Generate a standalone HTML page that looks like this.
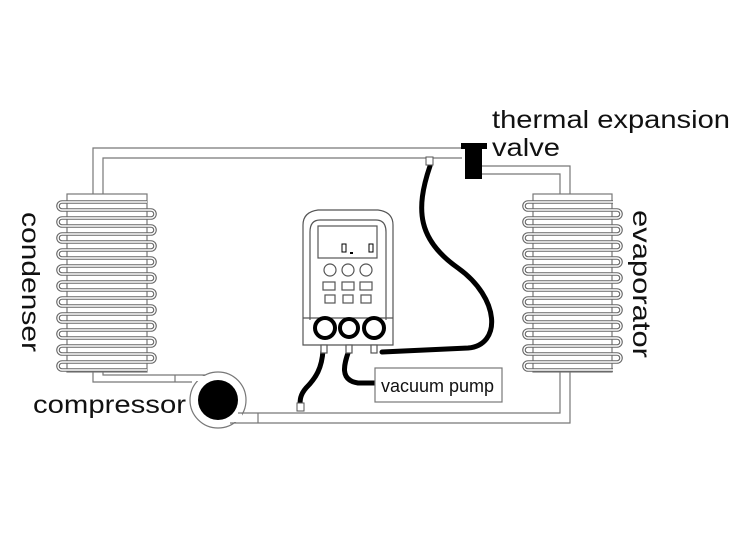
<!DOCTYPE html>
<html><head><style>html,body{margin:0;padding:0;background:#fff;width:737px;height:552px;overflow:hidden}</style></head><body>
<svg width="737" height="552" viewBox="0 0 737 552" xmlns="http://www.w3.org/2000/svg" font-family="Liberation Sans, sans-serif">
<defs>
<path id="coil" d="M147,202 H62 a4,4 0 0 0 0,8 H151 a4,4 0 0 1 0,8 H62 a4,4 0 0 0 0,8 H151 a4,4 0 0 1 0,8 H62 a4,4 0 0 0 0,8 H151 a4,4 0 0 1 0,8 H62 a4,4 0 0 0 0,8 H151 a4,4 0 0 1 0,8 H62 a4,4 0 0 0 0,8 H151 a4,4 0 0 1 0,8 H62 a4,4 0 0 0 0,8 H151 a4,4 0 0 1 0,8 H62 a4,4 0 0 0 0,8 H151 a4,4 0 0 1 0,8 H62 a4,4 0 0 0 0,8 H151 a4,4 0 0 1 0,8 H62 a4,4 0 0 0 0,8 H151 a4,4 0 0 1 0,8 H62 a4,4 0 0 0 0,8 H151 a4,4 0 0 1 0,8 H62 a4,4 0 0 0 0,8 H147"/>
</defs>
<g fill="none" stroke="#777" stroke-width="1.2">
<path d="M93,194 V148 H462"/>
<path d="M103,194 V158 H462"/>
<path d="M482,166 H570 V194"/>
<path d="M482,174 H560 V194"/>
<path d="M93,372 V382 H192"/>
<path d="M103,372 V375 H205"/>
<path d="M175,375 V382"/>
<circle cx="218" cy="400" r="28" fill="#fff"/>
<path d="M238,413 H560 V372"/>
<path d="M230,423 H570 V372"/>
<path d="M258,413 V423"/>
<rect x="67" y="194" width="80" height="178"/>
<rect x="533" y="194" width="79" height="178"/>
</g>
<rect x="194" y="376" width="14" height="5" fill="#fff"/>
<rect x="232" y="414" width="10" height="8" fill="#fff"/>
<g fill="none">
<use href="#coil" stroke="#666" stroke-width="3.6"/>
<use href="#coil" stroke="#fff" stroke-width="1.4"/>
<use href="#coil" stroke="#666" stroke-width="3.6" transform="translate(466,0)"/>
<use href="#coil" stroke="#fff" stroke-width="1.4" transform="translate(466,0)"/>
</g>
<circle cx="218" cy="400" r="20" fill="#000"/>
<rect x="465" y="143" width="17" height="36" fill="#000"/>
<rect x="461" y="143" width="26" height="6" fill="#000"/>
<g fill="none" stroke="#000" stroke-width="5" stroke-linecap="round">
<path d="M430,166 C415,210 418,240 458,268 C500,298 502,345 468,348 L382,352"/>
<path d="M323,350 C322,368 316,378 306,388 C300,395 300,400 300,406"/>
<path d="M349,350 C345,362 338,380 358,383 L376,383"/>
</g>
<g fill="#fff" stroke="#555" stroke-width="1">
<rect x="426" y="157" width="7" height="8"/>
<rect x="297" y="403" width="7" height="8"/>
</g>
<g stroke="#555" stroke-width="1.2" fill="#fff">
<path d="M303,345 V225 Q303,212 318,210 L378,210 Q393,212 393,225 V345 Z"/>
<path d="M310,320 V232 Q310,220 320,220 L376,220 Q386,220 386,232 V320"/>
<rect x="318" y="226" width="59" height="32"/>
<path d="M303,318 H393"/>
<rect x="321" y="345" width="6" height="8"/>
<rect x="346" y="345" width="6" height="8"/>
<rect x="371" y="345" width="6" height="8"/>
<circle cx="330" cy="270" r="6"/><circle cx="348" cy="270" r="6"/><circle cx="366" cy="270" r="6"/>
<rect x="323" y="282" width="12" height="8"/><rect x="342" y="282" width="12" height="8"/><rect x="360" y="282" width="12" height="8"/>
<rect x="325" y="295" width="10" height="8"/><rect x="343" y="295" width="10" height="8"/><rect x="361" y="295" width="10" height="8"/>
</g>
<g fill="#fff" stroke="#000" stroke-width="4">
<circle cx="325" cy="328" r="10"/><circle cx="349" cy="328" r="9"/><circle cx="374" cy="328" r="10"/>
</g>
<rect x="342" y="244" width="4" height="8" fill="none" stroke="#000"/>
<rect x="369" y="244" width="4" height="8" fill="none" stroke="#000"/>
<rect x="350" y="252" width="3" height="2" fill="#000"/>
<rect x="375" y="368" width="127" height="34" fill="#fff" stroke="#777" stroke-width="1.2"/>
<text x="381" y="392" font-size="18" fill="#111" textLength="113" lengthAdjust="spacingAndGlyphs">vacuum pump</text>
<g fill="#111" font-size="25">
<text x="492" y="128" textLength="238" lengthAdjust="spacingAndGlyphs">thermal expansion</text>
<text x="492" y="156" textLength="68" lengthAdjust="spacingAndGlyphs">valve</text>
<text x="33" y="413" textLength="153" lengthAdjust="spacingAndGlyphs">compressor</text>
<text transform="translate(22,212) rotate(90)" textLength="140" lengthAdjust="spacingAndGlyphs">condenser</text>
<text transform="translate(633,210) rotate(90)" textLength="148" lengthAdjust="spacingAndGlyphs">evaporator</text>
</g>
</svg>
</body></html>
